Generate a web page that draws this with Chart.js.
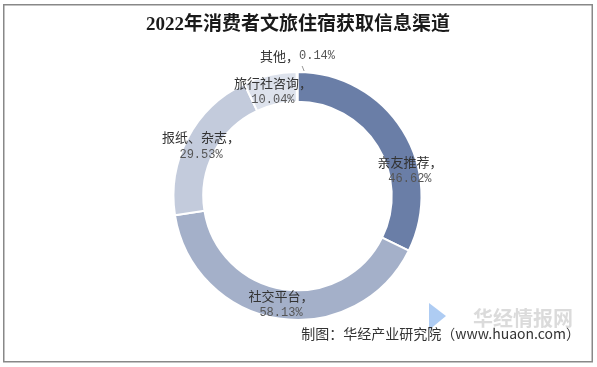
<!DOCTYPE html>
<html>
<head>
<meta charset="utf-8">
<script src="https://cdn.jsdelivr.net/npm/chart.js@4"></script>
<style>
  body { margin: 0; background: #fff; }
  #wrap { position: relative; width: 597px; height: 367px; }
</style>
</head>
<body>
<div id="wrap"><canvas id="chart" width="597" height="367"></canvas></div>
<script>
const categories = ['亲友推荐', '社交平台', '报纸、杂志', '旅行社咨询', '其他'];
const values = [46.62, 58.13, 29.53, 10.04, 0.14];
const sliceColors = ['#6a7ea7', '#a4b0c9', '#c3cbdc', '#dde2ec', '#b9c2d6'];

const titleText = '2022年消费者文旅住宿获取信息渠道';
const sourceText = '制图：华经产业研究院（www.huaon.com）';

// label anchors, relative to the centre, in outer-radius units
const labelOffsets = [
  [0.907, -0.206],
  [-0.133, 0.875],
  [-0.778, -0.403],
  [-0.198, -0.843],
  [0.0, -1.129],
];

const cjkFont = '13px "Noto Sans CJK SC", sans-serif';
const numFont = '12px "Liberation Mono", "DejaVu Sans Mono", monospace';

const decorPlugin = {
  id: 'decor',
  beforeDraw(chart) {
    const ctx = chart.ctx;
    ctx.save();
    ctx.fillStyle = '#fff';
    ctx.fillRect(0, 0, chart.width, chart.height);
    ctx.strokeStyle = '#888';
    ctx.lineWidth = 1.5;
    ctx.strokeRect(3.75, 4.75, 588.5, 357);
    // watermark
    ctx.fillStyle = 'rgba(190,190,190,0.55)';
    ctx.font = 'bold 20px "Noto Sans CJK SC", sans-serif';
    ctx.textAlign = 'center';
    ctx.textBaseline = 'middle';
    ctx.fillText('华经情报网', 523, 318);
    ctx.fillStyle = 'rgba(120,170,235,0.6)';
    ctx.beginPath();
    ctx.moveTo(429, 303);
    ctx.lineTo(446, 316);
    ctx.lineTo(429, 330);
    ctx.closePath();
    ctx.fill();
    ctx.restore();
  },
  afterDraw(chart) {
    const ctx = chart.ctx;
    const arc0 = chart.getDatasetMeta(0).data[0];
    const cx = arc0.x, cy = arc0.y, R = arc0.outerRadius;
    ctx.save();
    ctx.textBaseline = 'middle';
    ctx.textAlign = 'center';

    // title
    ctx.fillStyle = '#1a1a1a';
    ctx.font = 'bold 19px "Liberation Serif", "Noto Sans CJK SC", serif';
    ctx.fillText(titleText, 298, 25);

    // data labels
    categories.forEach((name, i) => {
      const ax = cx + labelOffsets[i][0] * R;
      const ay = cy + labelOffsets[i][1] * R;
      const head = name + '，';
      const pct = values[i].toFixed(2) + '%';
      if (i === categories.length - 1) {
        ctx.font = cjkFont;
        const w1 = ctx.measureText(head).width;
        ctx.font = numFont;
        const w2 = ctx.measureText(pct).width;
        const left = ax - (w1 + w2) / 2;
        ctx.textAlign = 'left';
        ctx.font = cjkFont;
        ctx.fillStyle = '#333';
        ctx.fillText(head, left, ay);
        ctx.font = numFont;
        ctx.fillStyle = '#555';
        ctx.fillText(pct, left + w1, ay);
        ctx.textAlign = 'center';
        // leader line
        const a = chart.getDatasetMeta(0).data[i];
        const mid = (a.startAngle + a.endAngle) / 2;
        ctx.strokeStyle = '#999';
        ctx.lineWidth = 1;
        ctx.beginPath();
        ctx.moveTo(cx + Math.cos(mid) * R + 5, cy + Math.sin(mid) * R - 6);
        ctx.lineTo(cx + Math.cos(mid) * R + 7, cy + Math.sin(mid) * R - 1);
        ctx.stroke();
      } else {
        ctx.font = cjkFont;
        ctx.fillStyle = '#333';
        ctx.fillText(head, ax, ay - 8.5);
        ctx.font = numFont;
        ctx.fillStyle = '#555';
        ctx.fillText(pct, ax, ay + 8.5);
      }
    });

    // source
    ctx.textAlign = 'right';
    ctx.fillStyle = '#333';
    ctx.font = '14px "Noto Sans CJK SC", sans-serif';
    ctx.fillText(sourceText, 580, 334);
    ctx.restore();
  },
};

const chart = new Chart(document.getElementById('chart'), {
  type: 'doughnut',
  data: {
    labels: categories,
    datasets: [{
      data: values,
      backgroundColor: sliceColors,
      borderColor: '#ffffff',
      borderWidth: 2,
    }],
  },
  options: {
    responsive: false,
    animation: false,
    cutout: '76%',
    layout: { padding: { left: 172.5, right: 174.5, top: 71, bottom: 46 } },
    plugins: {
      legend: { display: false },
      tooltip: { enabled: false },
      title: { display: false },
    },
  },
  plugins: [decorPlugin],
});
</script>
</body>
</html>
